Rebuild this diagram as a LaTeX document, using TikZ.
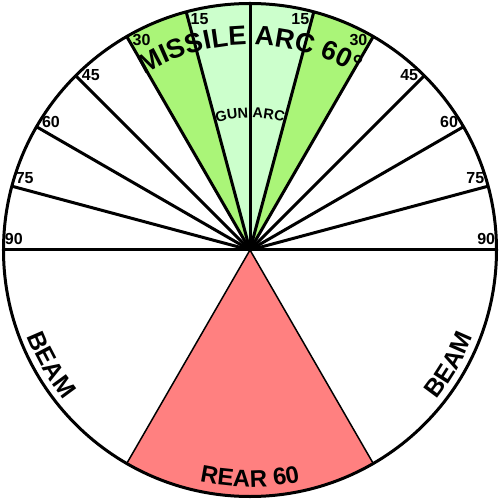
\documentclass[tikz,border=0pt]{standalone}
\usepackage{fontspec}
\setmainfont{Liberation Sans}
\usetikzlibrary{decorations.text}
\definecolor{GunGreen}{RGB}{204,255,204}
\definecolor{MissileGreen}{RGB}{170,245,120}
\definecolor{RearRed}{RGB}{255,128,128}

\begin{document}
\begin{tikzpicture}[x=1pt, y=1pt,
    spoke/.style={line width=3pt},
    deg/.style={font=\fontsize{16}{16}\selectfont\bfseries, inner sep=0pt},
    arctext/.style={decorate, decoration={text along path, text align=center, text={#1}}}]
    \useasboundingbox (-250,-250) rectangle (250,250);
    % firing arcs
    \fill[color=MissileGreen] (0,0) -- (60:246.5) arc[start angle=60, end angle=120, radius=246.5] -- cycle;
    \fill[color=GunGreen] (0,0) -- (75:246.5) arc[start angle=75, end angle=105, radius=246.5] -- cycle;
    \filldraw[fill=RearRed, line width=1.5pt] (0,0) -- (240:246.5) arc[start angle=240, end angle=300, radius=246.5] -- cycle;
    % spokes every 15 degrees
    \foreach \a in {0,15,...,180} \draw[spoke] (0,0) -- (\a:246.5);
    \foreach \a in {15,30,...,90} {
        \node[deg] (degL\a) at (90+\a-2.7:236.5) {\a};
        \node[deg] (degR\a) at (90-\a+2.7:236.5) {\a};
    }
    \draw[line width=3pt] (0,0) circle (246.5);
    % curved labels
    \path[arctext={|\fontsize{27}{27}\selectfont\bfseries|MISSILE ARC 60°}] (150:205) arc[start angle=150, end angle=30, radius=205];
    \path[arctext={|\fontsize{14.5}{14.5}\selectfont\bfseries|GUN ARC}] (120:132) arc[start angle=120, end angle=60, radius=132];
    \path[arctext={|\fontsize{25}{25}\selectfont\bfseries|BEAM}] (190:239) arc[start angle=190, end angle=230, radius=239];
    \path[arctext={|\fontsize{25}{25}\selectfont\bfseries|BEAM}] (310:239) arc[start angle=310, end angle=350, radius=239];
    \path[arctext={|\fontsize{24}{24}\selectfont\bfseries|REAR 60}] (230:237) arc[start angle=230, end angle=310, radius=237];
\end{tikzpicture}
\end{document}
